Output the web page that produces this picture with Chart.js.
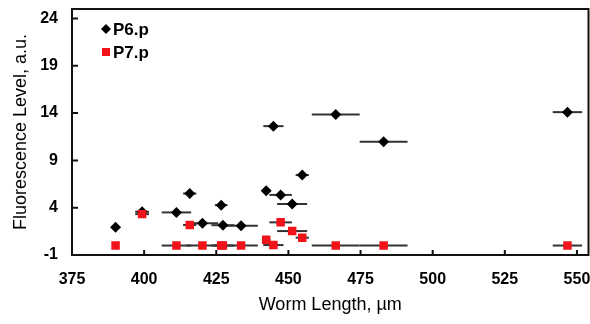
<!DOCTYPE html>
<html>
<head>
<meta charset="utf-8">
<script src="https://cdn.jsdelivr.net/npm/chart.js@4.4.1/dist/chart.umd.min.js"></script>
<style>
html,body{margin:0;padding:0;background:#fff;}
#wrap{position:relative;width:590px;height:324px;}
</style>
</head>
<body>
<div id="wrap"><canvas id="chart"></canvas></div>
<script>
'use strict';
// worms: length (µm) with its spread, and the level of each cell
const seriesNames=['P6.p','P7.p'];
const wormLength=[390.1,399.3,411.2,415.8,420.2,426.7,427.3,433.6,442.3,444.8,447.3,451.3,454.8,466.4,483.0,546.7];
const lengthErr=[0.8,2.4,5.1,2.3,5.5,2.2,4.0,5.8,1.5,3.5,3.9,5.2,2.3,8.3,8.3,5.1];
const p6Level=[1.93,3.57,3.5,5.5,2.35,4.27,2.15,2.1,5.79,12.62,5.35,4.39,7.45,13.84,10.97,14.1];
const p7Level=[0,3.32,0,2.17,0,0,0,0,0.6,0.05,2.45,1.53,0.83,0,0,0];
const xTicks=[375,400,425,450,475,500,525,550];
const yTicks=[-1,4,9,14,19,24];
const xTitle='Worm Length, \u00b5m';
const yTitle='Fluorescence Level, a.u.';

const FONT="'Liberation Sans', Arial, sans-serif";
const RED='#f0141a';

const errorBars={
  id:'errorBars',
  beforeDatasetsDraw(chart){
    const {ctx,scales:{x,y}}=chart;
    ctx.save();
    ctx.strokeStyle='#333';
    ctx.lineWidth=2;
    [p6Level,p7Level].forEach(levels=>{
      levels.forEach((v,i)=>{
        const py=y.getPixelForValue(v);
        ctx.beginPath();
        ctx.moveTo(x.getPixelForValue(wormLength[i]-lengthErr[i]),py);
        ctx.lineTo(x.getPixelForValue(wormLength[i]+lengthErr[i]),py);
        ctx.stroke();
      });
    });
    ctx.restore();
  }
};

const frame={
  id:'frame',
  afterDraw(chart){
    const {ctx,chartArea:a,scales:{x,y}}=chart;
    ctx.save();
    ctx.strokeStyle='#111';
    ctx.lineWidth=2;
    ctx.strokeRect(a.left,a.top,a.right-a.left,a.bottom-a.top);
    ctx.beginPath();
    xTicks.forEach(v=>{const px=x.getPixelForValue(v);ctx.moveTo(px,a.bottom);ctx.lineTo(px,a.bottom-5);});
    yTicks.forEach(v=>{const py=y.getPixelForValue(v);ctx.moveTo(a.left,py);ctx.lineTo(a.left+6,py);});
    ctx.stroke();
    ctx.restore();
  }
};

const legendBox={
  id:'legendBox',
  afterDraw(chart){
    const {ctx,chartArea:a}=chart;
    const mx=a.left+34, rows=[a.top+20,a.top+43];
    ctx.save();
    ctx.font='bold 17px '+FONT;
    ctx.textBaseline='middle';
    ctx.fillStyle='#000';
    ctx.beginPath();
    ctx.moveTo(mx,rows[0]-5);ctx.lineTo(mx+5,rows[0]);ctx.lineTo(mx,rows[0]+5);ctx.lineTo(mx-5,rows[0]);
    ctx.closePath();ctx.fill();
    ctx.fillText(seriesNames[0],mx+7,rows[0]+1);
    ctx.fillStyle=RED;
    ctx.fillRect(mx-4,rows[1]-4,8,8);
    ctx.fillStyle='#000';
    ctx.fillText(seriesNames[1],mx+7,rows[1]+1);
    ctx.restore();
  }
};

new Chart(document.getElementById('chart'),{
  type:'scatter',
  data:{datasets:[
    {label:seriesNames[0],data:wormLength.map((v,i)=>({x:v,y:p6Level[i]})),pointStyle:'rectRot',pointRadius:5.5,pointHoverRadius:5.5,backgroundColor:'#000',borderColor:'#000',borderWidth:0,order:1},
    {label:seriesNames[1],data:wormLength.map((v,i)=>({x:v,y:p7Level[i]})),pointStyle:'rect',pointRadius:6,pointHoverRadius:6,backgroundColor:RED,borderColor:RED,borderWidth:0,order:0}
  ]},
  options:{
    responsive:true,
    maintainAspectRatio:false,
    animation:false,
    events:[],
    layout:{autoPadding:false,padding:{top:9,right:1.5,left:0,bottom:0}},
    plugins:{legend:{display:false},tooltip:{enabled:false}},
    scales:{
      x:{
        type:'linear',min:375,max:554,
        afterBuildTicks:s=>{s.ticks=xTicks.map(v=>({value:v}));},
        afterFit:s=>{s.height=69;s.paddingLeft=0;s.paddingRight=0;},
        grid:{display:false,drawTicks:false},
        border:{display:false},
        ticks:{padding:15,color:'#000',font:{family:FONT,size:16,weight:'bold'},maxRotation:0,autoSkip:false},
        title:{display:true,text:xTitle,color:'#000',font:{family:FONT,size:18},padding:{top:0,bottom:8}}
      },
      y:{
        type:'linear',min:-1,max:25,
        afterBuildTicks:s=>{s.ticks=yTicks.map(v=>({value:v}));},
        afterFit:s=>{s.width=72;s.paddingTop=0;s.paddingBottom=0;},
        grid:{display:false,drawTicks:false},
        border:{display:false},
        ticks:{padding:14,color:'#000',font:{family:FONT,size:16,weight:'bold'},autoSkip:false},
        title:{display:true,text:yTitle,color:'#000',font:{family:FONT,size:18},padding:{top:10,bottom:0}}
      }
    }
  },
  plugins:[errorBars,frame,legendBox]
});
</script>
</body>
</html>
